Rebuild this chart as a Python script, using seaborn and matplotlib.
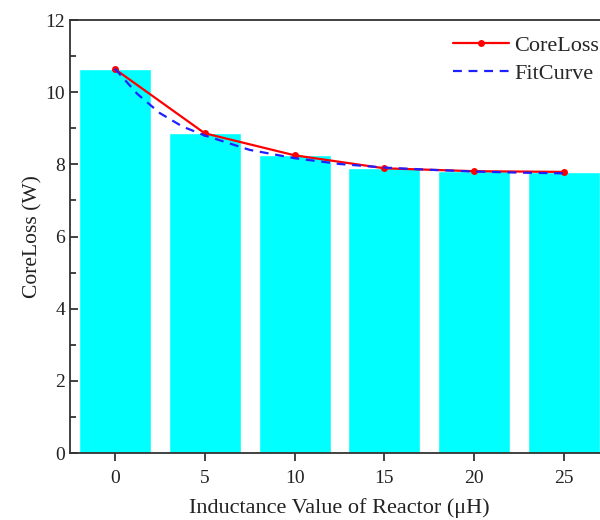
import matplotlib
matplotlib.use("Agg")
import matplotlib.pyplot as plt
import seaborn as sns
import pandas as pd
from matplotlib.ticker import MultipleLocator

# data
inductance = [0, 5, 10, 15, 20, 25]
core_loss = [10.64, 8.86, 8.25, 7.89, 7.81, 7.79]
fit_x = [0, 1.25, 2.5, 3.75, 5, 7.5, 10, 12.5, 15, 17.5, 20, 22.5, 25]
fit_y = [10.65, 9.95, 9.42, 9.05, 8.80, 8.40, 8.17, 8.01, 7.91, 7.85, 7.80, 7.77, 7.75]
xticks = [0, 5, 10, 15, 20, 25]
yticks = [0, 2, 4, 6, 8, 10, 12]

sns.set_theme(style="ticks")
plt.rcParams['font.family'] = ['Liberation Serif', 'DejaVu Serif']

df = pd.DataFrame({"L": inductance, "P": core_loss})
fit = pd.DataFrame({"x": fit_x, "y": fit_y})

fig = plt.figure(figsize=(6, 5.2), dpi=100)
ax = fig.add_axes([70/600, 67/520, 539/600, 433/520])

sns.barplot(data=df, x="L", y="P", native_scale=True, color="#00FFFF",
            saturation=1, width=0.8, ax=ax, errorbar=None)
sns.lineplot(data=df, x="L", y="P", color="#FF0000", marker="o", markersize=5,
             markeredgewidth=0, linewidth=1.6, ax=ax, label="CoreLoss")
sns.lineplot(data=fit, x="x", y="y", color="#2020FF", linestyle=(0, (4, 3)),
             linewidth=1.6, ax=ax, label="FitCurve")

ax.set_xlim(-2.5, 27.5)
ax.set_ylim(0, 12)
ax.set_xticks(xticks)
ax.set_yticks(yticks)
ax.yaxis.set_minor_locator(MultipleLocator(1))
ax.tick_params(axis="y", which="both", direction="in", labelsize=14, width=1.2, colors="#222222")
ax.tick_params(axis="y", which="major", length=6)
ax.tick_params(axis="y", which="minor", length=4)
ax.tick_params(axis="x", direction="out", length=6, width=1.2, labelsize=14, pad=6, colors="#222222")
for s in ax.spines.values():
    s.set_linewidth(1.3)
    s.set_color("#333333")

ax.set_xlabel("Inductance Value of Reactor (\u03bcH)", fontsize=16, labelpad=8, color="#222222")
ax.set_ylabel("CoreLoss (W)", fontsize=15.5, labelpad=2, color="#222222")

leg = ax.legend(loc="upper left", bbox_to_anchor=(0.695, 0.985), frameon=False, fontsize=16,
                handlelength=2.5, handletextpad=0.25, labelspacing=0.35, borderaxespad=0)

fig.savefig("out.png", dpi=100)
